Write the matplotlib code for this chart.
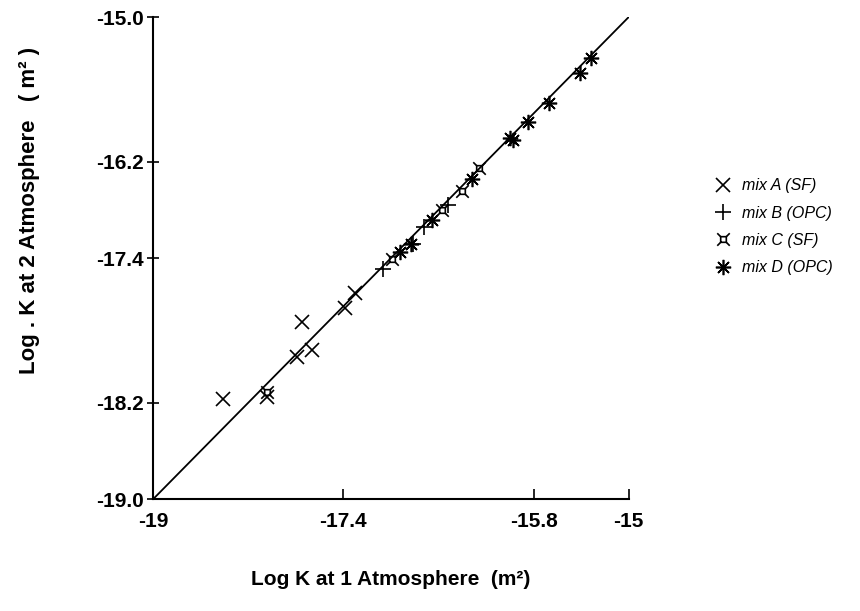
import numpy as np
import matplotlib.pyplot as plt
from matplotlib.path import Path

plt.rcParams['font.family'] = ['Liberation Sans', 'DejaVu Sans']

# data (log K at 1 atm, log K at 2 atm)
mix_a_x = [-18.41, -18.04, -17.79, -17.75, -17.66, -17.39, -17.30]
mix_a_y = [-18.17, -18.15, -17.82, -17.53, -17.76, -17.41, -17.29]

mix_b_x = [-17.07, -16.81, -16.72, -16.52]
mix_b_y = [-17.09, -16.88, -16.74, -16.56]

mix_c_x = [-18.04, -16.99, -16.57, -16.40, -16.26]
mix_c_y = [-18.11, -17.01, -16.60, -16.44, -16.25]

mix_d_x = [-16.92, -16.83, -16.65, -16.32, -16.00, -15.97, -15.85, -15.67, -15.41, -15.32]
mix_d_y = [-16.95, -16.88, -16.68, -16.34, -16.00, -16.02, -15.87, -15.71, -15.46, -15.34]

labels = ['mix A (SF)', 'mix B (OPC)', 'mix C (SF)', 'mix D (OPC)']

x_ticks = [-19, -17.4, -15.8, -15]
x_tick_labels = ['-19', '-17.4', '-15.8', '-15']
# tick marks sit where they are drawn in the original, labels as printed
y_ticks = [-19.0, -18.2, -17.0, -16.2, -15.0]
y_tick_labels = ['-19.0', '-18.2', '-17.4', '-16.2', '-15.0']

# marker for mix C: small box with corner spurs
s = 0.45
verts = [(-s, -s), (s, -s), (s, s), (-s, s), (-s, -s),
         (-s, -s), (-1, -1), (s, -s), (1, -1), (s, s), (1, 1), (-s, s), (-1, 1)]
codes = [Path.MOVETO, Path.LINETO, Path.LINETO, Path.LINETO, Path.LINETO,
         Path.MOVETO, Path.LINETO, Path.MOVETO, Path.LINETO, Path.MOVETO, Path.LINETO,
         Path.MOVETO, Path.LINETO]
box_marker = Path(verts, codes)

fig = plt.figure(figsize=(8.6, 6.11), dpi=100)
ax = fig.add_axes([0.178, 0.183, 0.553, 0.789])

ax.plot([-19, -15], [-19, -15], color='black', lw=1.3)

kw = dict(linestyle='none', color='black', mew=1.2)
ax.plot(mix_a_x, mix_a_y, marker='x', ms=10, label=labels[0], **kw)
ax.plot(mix_b_x, mix_b_y, marker='+', ms=12, label=labels[1], **kw)
ax.plot(mix_c_x, mix_c_y, marker=box_marker, ms=9, mfc='none', label=labels[2], **kw)
ax.plot(mix_d_x, mix_d_y, marker=(8, 2, 0), ms=11, label=labels[3], **kw)

ax.set_xlim(-19, -15)
ax.set_ylim(-19, -15)
ax.set_xticks(x_ticks)
ax.set_xticklabels(x_tick_labels)
ax.set_yticks(y_ticks)
ax.set_yticklabels(y_tick_labels)
for t in ax.get_xticklabels() + ax.get_yticklabels():
    t.set_fontweight('bold')
    t.set_fontsize(15)
ax.tick_params(axis='x', direction='in', length=7, width=1.2, pad=9)
ax.tick_params(axis='y', direction='inout', length=9, width=1.2, pad=2)

ax.spines['top'].set_visible(False)
ax.spines['right'].set_visible(False)
ax.spines['left'].set_linewidth(1.5)
ax.spines['bottom'].set_linewidth(1.5)

ax.set_xlabel('Log K at 1 Atmosphere  (m²)', fontsize=15, fontweight='bold', labelpad=28)
ax.set_ylabel('Log . K at 2 Atmosphere   ( m² )', fontsize=16, fontweight='bold')
ax.yaxis.set_label_coords(-0.238, 0.6)

leg = fig.legend(loc='upper left', bbox_to_anchor=(0.813, 0.732), frameon=False,
                 prop={'style': 'italic', 'size': 11.5}, handlelength=1.2,
                 labelspacing=0.78, handletextpad=0.6)

fig.savefig('out.png', dpi=100)
